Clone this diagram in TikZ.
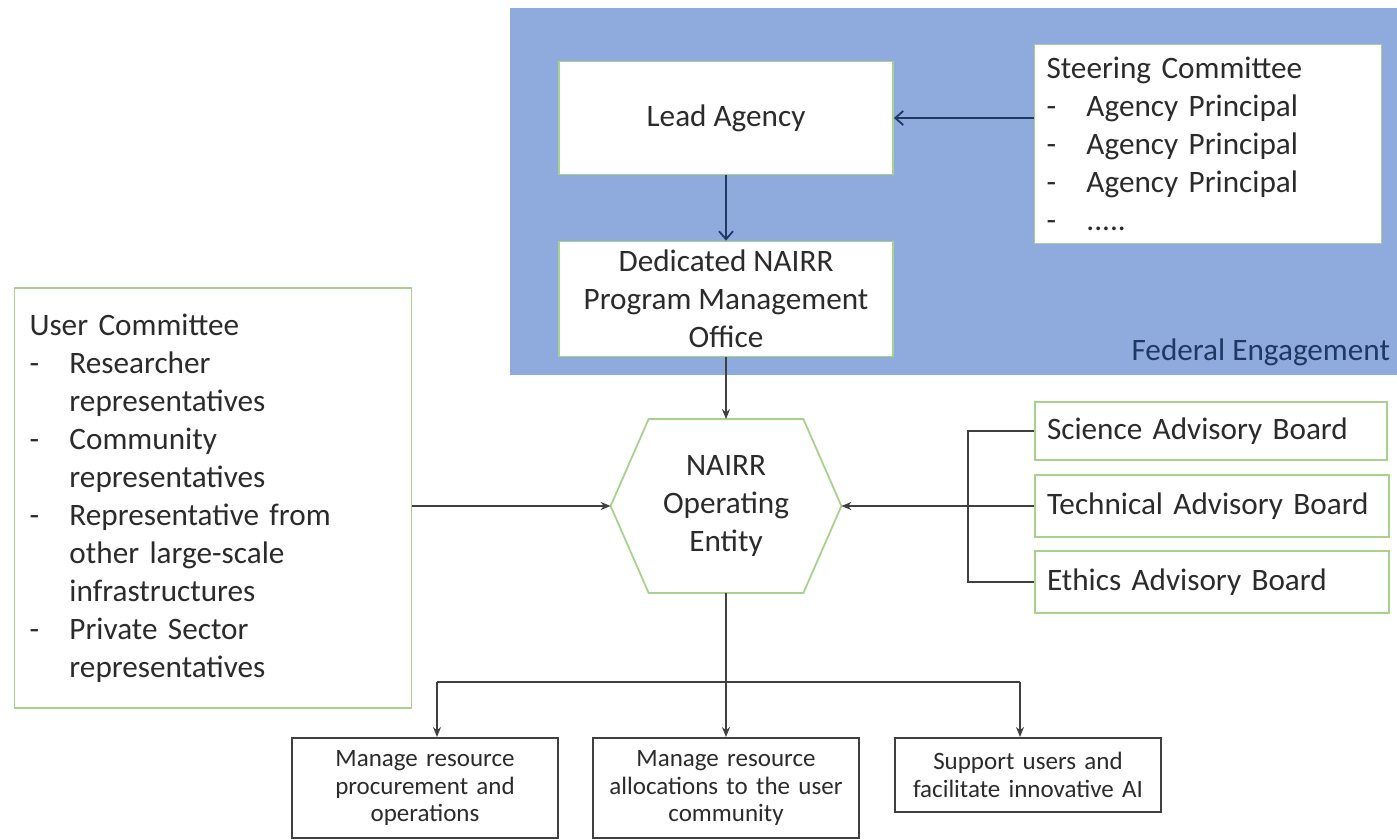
\documentclass[tikz,border=0pt]{standalone}
\usepackage{fontspec}
\setmainfont{Carlito}
\usepackage{tikz}
\usetikzlibrary{calc,arrows.meta}

\definecolor{fedblue}{HTML}{8FAADC}
\definecolor{boxgreen}{HTML}{A9D18E}
\definecolor{navy}{HTML}{203864}
\definecolor{txt}{HTML}{2B2B2B}

\newcommand{\itm}{\makebox[20pt][l]{-}}
\newcommand{\cont}{\hspace*{20pt}}

\begin{document}
\begin{tikzpicture}[x=0.5pt, y=-0.5pt,
    every node/.style={text=txt, font=\fontsize{15.6}{19}\selectfont},
    greenbox/.style={draw=boxgreen, line width=0.9pt, fill=white},
    taskbox/.style={draw=black!75, line width=1pt, fill=white, align=center,
        text width=126pt, minimum width=131pt, font=\fontsize{12.5}{13.8}\selectfont},
    line/.style={draw=black!75, line width=0.8pt},
    arr/.style={line, -{Stealth[length=5pt,width=4pt]}},
    navyarr/.style={draw=navy, line width=0.9pt, -{Straight Barb[length=4pt,width=7pt]}}]
    \useasboundingbox (0,0) rectangle (1397,840);

    % federal part
    \fill[fedblue] (510,8) rectangle (1400,375);
    \node[anchor=east, text=navy] (fed) at (1397,352) {Federal Engagement};

    \node[greenbox, minimum width=167pt, minimum height=56.5pt] (lead) at (726,118) {Lead Agency};
    \node[greenbox, minimum width=167pt, minimum height=57.5pt, align=center] (pmo) at (726,299)
        {Dedicated NAIRR\\Program Management\\Office};
    \node[greenbox, minimum width=173.5pt, minimum height=99.5pt, inner xsep=6pt,
        text width=161.5pt, align=left] (steer) at (1208,144)
        {Steering Committee\\ \itm Agency Principal\\ \itm Agency Principal\\ \itm Agency Principal\\ \itm .....};

    % operating entity
    \node[minimum width=115pt, minimum height=86.5pt, inner sep=0pt, align=center] (hex) at (726,506)
        {NAIRR\\Operating\\Entity};
    \draw[boxgreen, line width=0.9pt] ($(hex.north west)+(38,0)$) -- ($(hex.north east)+(-38,0)$)
        -- (hex.east) -- ($(hex.south east)+(-38,0)$) -- ($(hex.south west)+(38,0)$) -- (hex.west) -- cycle;

    \node[greenbox, minimum width=198.5pt, minimum height=210pt, inner xsep=7.5pt,
        text width=183.5pt, align=left] (user) at (213,498)
        {User Committee\\ \itm Researcher\\ \cont representatives\\ \itm Community\\ \cont representatives\\
         \itm Representative from\\ \cont other large-scale\\ \cont infrastructures\\ \itm Private Sector\\
         \cont representatives};

    % advisory boards
    \node[greenbox, minimum width=176pt, minimum height=29pt, inner xsep=6pt,
        text width=164pt, align=left] (sci) at (1211,431) {Science Advisory Board};
    \node[greenbox, minimum width=177pt, minimum height=31pt, inner xsep=6pt,
        text width=165pt, align=left] (tech) at (1212,506) {Technical Advisory Board};
    \node[greenbox, minimum width=177pt, minimum height=31pt, inner xsep=6pt,
        text width=165pt, align=left] (eth) at (1212,582) {Ethics Advisory Board};

    % tasks
    \node[taskbox, minimum height=50pt] (procure) at (425,788)
        {Manage resource\\procurement and\\operations};
    \node[taskbox, minimum height=50pt] (alloc) at (726,788)
        {Manage resource\\allocations to the user\\community};
    \node[taskbox, minimum width=130pt, minimum height=37pt] (support) at (1028,775)
        {Support users and\\facilitate innovative AI};

    % connectors
    \draw[navyarr] (steer.west |- lead.east) -- (lead.east);
    \draw[navyarr] (lead.south) -- (pmo.north);
    \draw[arr] (pmo.south) -- (hex.north);
    \draw[arr] (user.east |- hex.west) -- (hex.west);

    \coordinate (bus) at (968,506);
    \draw[line] (sci.west) -| (bus) |- (eth.west);
    \draw[arr] (tech.west) -- (hex.east);

    \coordinate (split) at (726,682);
    \coordinate (busL) at (437,682);
    \coordinate (busR) at (1020,682);
    \draw[line] (hex.south) -- (split);
    \draw[line] (busL) -- (busR);
    \draw[arr] (busL) -- (busL |- procure.north);
    \draw[arr] (split) -- (alloc.north);
    \draw[arr] (busR) -- (busR |- support.north);
\end{tikzpicture}
\end{document}
